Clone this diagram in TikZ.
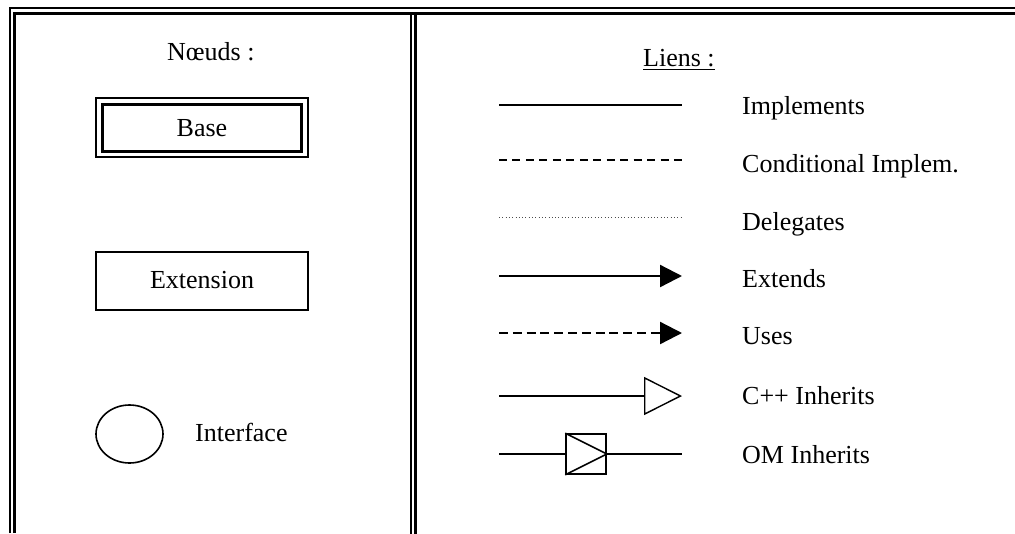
\documentclass[tikz,border=0pt]{standalone}
\usepackage{fontspec}
\setmainfont{Liberation Serif}
\usetikzlibrary{arrows.meta,shapes.geometric}
\begin{document}
\begin{tikzpicture}[x=1pt,y=-1pt,
  txt/.style={inner sep=0pt,anchor=base west,font=\fontsize{26}{30}\selectfont},
  ctxt/.style={inner sep=0pt,anchor=base,font=\fontsize{26}{30}\selectfont},
  thinl/.style={line width=1.4pt},
  thickl/.style={line width=2.3pt},
  fillhead/.style={-{Triangle[length=22pt,width=22pt]}},
  openhead/.style={-{Triangle[open,length=38pt,width=38pt,line width=1.4pt]}}
]
\useasboundingbox (0,0) rectangle (1015,533);
% frame
\coordinate (fo1) at (10,533); \coordinate (fo2) at (10,8); \coordinate (fo3) at (1016,8);
\coordinate (fi1) at (14,533); \coordinate (fi2) at (14,13.5); \coordinate (fi3) at (1016,13.5);
\draw[line width=2pt] (fo1) -- (fo2) -- (fo3);
\draw[line width=3pt] (fi1) -- (fi2) -- (fi3);
\coordinate (d1t) at (410.5,13.5); \coordinate (d1b) at (410.5,534);
\coordinate (d2t) at (415,13.5); \coordinate (d2b) at (415,534);
\draw[line width=2pt] (d1t) -- (d1b);
\draw[line width=3pt] (d2t) -- (d2b);
% left panel
\node[txt] (noeuds) at (167,60) {Nœuds :};
\node[draw,line width=2pt,minimum width=212pt,minimum height=59pt,inner sep=0pt] (baseo) at (202,127.5) {};
\node[draw,line width=3pt,minimum width=199pt,minimum height=47pt,inner sep=0pt] (basei) at (202,127.5) {};
\node[ctxt] (basetxt) at (202,136) {Base};
\node[draw,line width=2pt,minimum width=212pt,minimum height=58pt,inner sep=0pt] (ext) at (202,281) {};
\node[ctxt] (exttxt) at (202,288) {Extension};
\node[draw,line width=1.6pt,ellipse,minimum width=67pt,minimum height=58pt,inner sep=0pt] (iface) at (129.5,434) {};
\node[txt] (ifacetxt) at (195,441) {Interface};
% right panel
\node[txt] (liens) at (643,66) {Liens :};
\draw[line width=1.6pt] ([yshift=-3.5pt]liens.base west) -- ([yshift=-3.5pt]liens.base east);
% Implements
\coordinate (a1) at (499,105); \coordinate (b1) at (682,105);
\draw[thinl] (a1) -- (b1);
\node[txt] (l1) at (742,114) {Implements};
% Conditional
\coordinate (a2) at (499,160); \coordinate (b2) at (682,160);
\draw[thinl,dash pattern=on 8pt off 5.46pt] (a2) -- (b2);
\node[txt] (l2) at (742,172) {Conditional Implem.};
% Delegates
\coordinate (a3) at (499,217); \coordinate (b3) at (682,217);
\draw[line width=1pt,dash pattern=on 1pt off 2.3pt,black!70] (a3) -- (b3);
\node[txt] (l3) at (742,230) {Delegates};
% Extends
\coordinate (a4) at (499,276); \coordinate (b4) at (682,276);
\draw[thickl,fillhead] (a4) -- (b4);
\node[txt] (l4) at (742,287) {Extends};
% Uses
\coordinate (a5) at (499,333); \coordinate (b5) at (682,333);
\draw[thickl,dash pattern=on 9pt off 4.8pt,fillhead] (a5) -- (b5);
\node[txt] (l5) at (742,344) {Uses};
% C++ Inherits
\coordinate (a6) at (499,396); \coordinate (b6) at (682,396);
\draw[thinl,openhead] (a6) -- (b6);
\node[txt] (l6) at (742,404) {C++ Inherits};
% OM Inherits
\coordinate (a7) at (499,454); \coordinate (b7) at (682,454);
\node[draw,line width=1.6pt,minimum size=40pt,inner sep=0pt] (om) at (586,454) {};
\draw[thinl] (a7) -- (om.west);
\draw[thinl] (om.east) -- (b7);
\draw[line width=1.6pt] (om.north west) -- (om.east) -- (om.south west);
\node[txt] (l7) at (742,463) {OM Inherits};
\end{tikzpicture}
\end{document}
